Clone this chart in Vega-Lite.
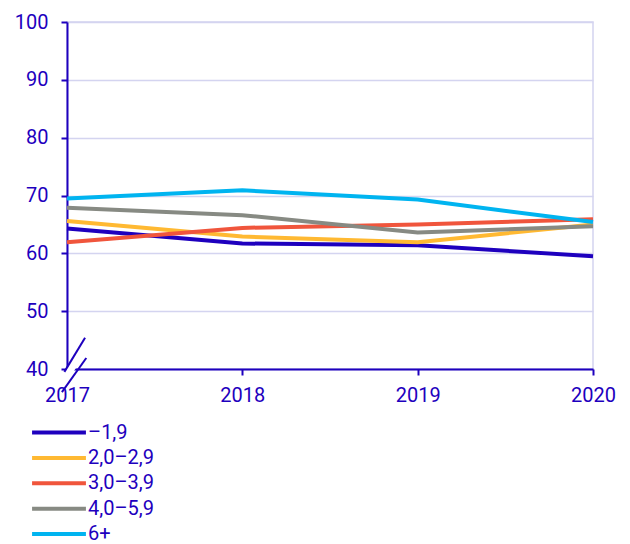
{
  "$schema": "https://vega.github.io/schema/vega-lite/v6.json",
  "autosize": {"type": "none"},
  "width": 526,
  "height": 347,
  "padding": {"left": 67, "top": 22, "right": 37, "bottom": 175},
  "background": "white",
  "config": {
    "font": "Roboto",
    "view": {"stroke": "#D4D4F0", "strokeWidth": 1.5},
    "axis": {
      "labelFont": "Roboto",
      "labelFontSize": 20,
      "labelColor": "#1E00BE",
      "domainColor": "#1E00BE",
      "domainWidth": 2,
      "tickColor": "#1E00BE",
      "tickWidth": 2,
      "tickSize": 6,
      "title": null
    },
    "legend": {
      "labelFont": "Roboto",
      "labelFontSize": 20,
      "labelColor": "#1E00BE"
    }
  },
  "datasets": {
    "series": [
      {"year": 2017, "group": "–1,9", "value": 64.3},
      {"year": 2018, "group": "–1,9", "value": 61.7},
      {"year": 2019, "group": "–1,9", "value": 61.4},
      {"year": 2020, "group": "–1,9", "value": 59.5},
      {"year": 2017, "group": "2,0–2,9", "value": 65.6},
      {"year": 2018, "group": "2,0–2,9", "value": 62.9},
      {"year": 2019, "group": "2,0–2,9", "value": 61.9},
      {"year": 2020, "group": "2,0–2,9", "value": 65.0},
      {"year": 2017, "group": "3,0–3,9", "value": 61.9},
      {"year": 2018, "group": "3,0–3,9", "value": 64.4},
      {"year": 2019, "group": "3,0–3,9", "value": 65.0},
      {"year": 2020, "group": "3,0–3,9", "value": 65.9},
      {"year": 2017, "group": "4,0–5,9", "value": 67.9},
      {"year": 2018, "group": "4,0–5,9", "value": 66.6},
      {"year": 2019, "group": "4,0–5,9", "value": 63.6},
      {"year": 2020, "group": "4,0–5,9", "value": 64.7},
      {"year": 2017, "group": "6+", "value": 69.5},
      {"year": 2018, "group": "6+", "value": 70.9},
      {"year": 2019, "group": "6+", "value": 69.3},
      {"year": 2020, "group": "6+", "value": 65.4}
    ],
    "single": [{}]
  },
  "layer": [
    {
      "data": {"name": "series"},
      "mark": {"type": "line", "strokeWidth": 4},
      "encoding": {
        "x": {
          "field": "year",
          "type": "quantitative",
          "scale": {"domain": [2017, 2020], "nice": false, "zero": false},
          "axis": {
            "values": [2017, 2018, 2019, 2020],
            "format": "d",
            "grid": false,
            "labelPadding": 10,
            "labelFlush": false
          }
        },
        "y": {
          "field": "value",
          "type": "quantitative",
          "scale": {"domain": [40, 100], "nice": false, "zero": false},
          "axis": {
            "values": [40, 50, 60, 70, 80, 90, 100],
            "grid": true,
            "gridColor": "#D4D4F0",
            "gridWidth": 1.5,
            "labelPadding": 13
          }
        },
        "color": {
          "field": "group",
          "type": "nominal",
          "scale": {
            "domain": ["–1,9", "2,0–2,9", "3,0–3,9", "4,0–5,9", "6+"],
            "range": ["#1E00BE", "#FFB932", "#F0553C", "#878A83", "#00B4F0"]
          },
          "legend": {
            "title": null,
            "orient": "none",
            "legendX": -18,
            "legendY": 400.5,
            "padding": 0,
            "symbolType": "M-5,0H5",
            "symbolSize": 116,
            "symbolStrokeWidth": 4,
            "rowPadding": 5.4,
            "labelOffset": 19
          }
        }
      }
    },
    {
      "data": {"name": "single"},
      "mark": {"type": "rule", "stroke": "white", "strokeWidth": 8},
      "encoding": {
        "x": {"datum": 2016.975},
        "y": {"datum": 37.9},
        "x2": {"datum": 2017.115},
        "y2": {"datum": 44.4}
      }
    },
    {
      "data": {"name": "single"},
      "mark": {"type": "rule", "stroke": "#1E00BE", "strokeWidth": 2},
      "encoding": {
        "x": {"datum": 2016.985},
        "y": {"datum": 39.5},
        "x2": {"datum": 2017.103},
        "y2": {"datum": 45.4}
      }
    },
    {
      "data": {"name": "single"},
      "mark": {"type": "rule", "stroke": "#1E00BE", "strokeWidth": 2},
      "encoding": {
        "x": {"datum": 2016.971},
        "y": {"datum": 36.0},
        "x2": {"datum": 2017.11},
        "y2": {"datum": 41.9}
      }
    }
  ]
}
